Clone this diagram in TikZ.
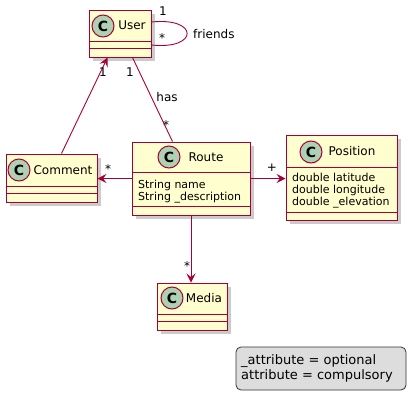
\documentclass[tikz,border=0pt]{standalone}
\usepackage{fontspec}
\setmainfont{DejaVu Sans}
\usetikzlibrary{calc,shadows,arrows.meta}
\definecolor{umlred}{HTML}{A80036}
\definecolor{umlfill}{HTML}{FEFECE}
\definecolor{circfill}{HTML}{ADD1B2}
\definecolor{legfill}{HTML}{DDDDDD}
\tikzset{
  cls/.style={draw=umlred, fill=umlfill, line width=1pt, inner sep=0pt,
    drop shadow={shadow xshift=3.5pt, shadow yshift=-3.5pt, fill=black!45, opacity=.45}},
  sepline/.style={draw=umlred, line width=1pt},
  circ/.style={circle, draw=umlred, fill=circfill, line width=1pt, minimum size=22pt, inner sep=0pt,
    font=\fontsize{14}{14}\selectfont\bfseries},
  cname/.style={font=\fontsize{12}{14}\selectfont, inner sep=0pt},
  attr/.style={font=\fontsize{11}{13}\selectfont, inner sep=0pt, anchor=west},
  lbl/.style={font=\fontsize{12}{14}\selectfont, inner sep=0pt},
  assoc/.style={draw=umlred, line width=0.9pt},
  arr/.style={assoc, -{Stealth[length=9pt,width=9pt,inset=3.5pt]}},
}
\begin{document}
\begin{tikzpicture}[x=1pt,y=-1pt]
\useasboundingbox (0,0) rectangle (416,400);
% User
\node[cls, minimum width=62pt, minimum height=47pt] (user) at (120,33.5) {};
\draw[sepline] ($(user.north west)+(0,32)$) -- ($(user.north east)+(0,32)$);
\draw[sepline] ($(user.north west)+(0,39)$) -- ($(user.north east)+(0,39)$);
\node[circ] (userc) at (103,26) {C};
\node[cname] (usern) at (132,25) {User};
% Comment
\node[cls, minimum width=91pt, minimum height=48pt] (comment) at (51.5,178) {};
\draw[sepline] ($(comment.north west)+(0,33)$) -- ($(comment.north east)+(0,33)$);
\draw[sepline] ($(comment.north west)+(0,40)$) -- ($(comment.north east)+(0,40)$);
\node[circ] (commentc) at (19,170) {C};
\node[cname] (commentn) at (63,170) {Comment};
% Route
\node[cls, minimum width=118pt, minimum height=73pt] (route) at (191,178.5) {};
\draw[sepline] ($(route.north west)+(0,31)$) -- ($(route.north east)+(0,31)$);
\draw[sepline] ($(route.north west)+(0,65)$) -- ($(route.north east)+(0,65)$);
\node[circ] (routec) at (169,157) {C};
\node[cname] (routen) at (206,157) {Route};
\node[attr] (ra1) at (138,185) {String name};
\node[attr] (ra2) at (138,198) {String \_description};
% Position
\node[cls, minimum width=111pt, minimum height=85pt] (position) at (341.5,177.5) {};
\draw[sepline] ($(position.north west)+(0,33)$) -- ($(position.north east)+(0,33)$);
\draw[sepline] ($(position.north west)+(0,78)$) -- ($(position.north east)+(0,78)$);
\node[circ] (positionc) at (311,152) {C};
\node[cname] (positionn) at (352,151) {Position};
\node[attr] (pa1) at (292,177) {double latitude};
\node[attr] (pa2) at (292,190) {double longitude};
\node[attr] (pa3) at (292,203) {double \_elevation};
% Media
\node[cls, minimum width=70pt, minimum height=47pt] (media) at (192,306.5) {};
\draw[sepline] ($(media.north west)+(0,32)$) -- ($(media.north east)+(0,32)$);
\draw[sepline] ($(media.north west)+(0,39)$) -- ($(media.north east)+(0,39)$);
\node[circ] (mediac) at (172,298) {C};
\node[cname] (median) at (204,298) {Media};
% connectors
\draw[assoc] ($(user.east)+(0,-11.5)$) .. controls (199,17) and (199,50) .. ($(user.east)+(0,11.5)$);
\node[lbl] (fr1) at (163,11) {1};
\node[lbl] (frs) at (162,38) {*};
\node[lbl, anchor=west] (frl) at (193,34) {friends};
\draw[arr] ($(comment.north west)+(56,0)$) -- ($(user.south west)+(19,0)$);
\node[lbl] (cu1) at (103,72) {1};
\draw[assoc] ($(user.south west)+(44,0)$) -- ($(route.north west)+(41,0)$);
\node[lbl] (ru1) at (130,72) {1};
\node[lbl] (ruhas) at (167,97) {has};
\node[lbl] (rus) at (166,125) {*};
\draw[arr] (route.west) -- (comment.east |- route.west);
\node[lbl] (rcs) at (108,169) {*};
\draw[arr] (route.east) -- (position.west |- route.east);
\node[lbl] (rpp) at (272,168) {+};
\draw[arr] (route.south) -- (media.north -| route.south);
\node[lbl] (rms) at (187,266) {*};
% legend
\node[draw=black!80, fill=legfill, rounded corners=5pt, line width=0.8pt, minimum width=170pt, minimum height=43pt] (legend) at (321,368.5) {};
\node[anchor=west, inner sep=0pt, font=\fontsize{13}{15}\selectfont] (leg1) at (241,361) {\_attribute = optional};
\node[anchor=west, inner sep=0pt, font=\fontsize{13}{15}\selectfont] (leg2) at (241,376) {attribute = compulsory};
\end{tikzpicture}
\end{document}
